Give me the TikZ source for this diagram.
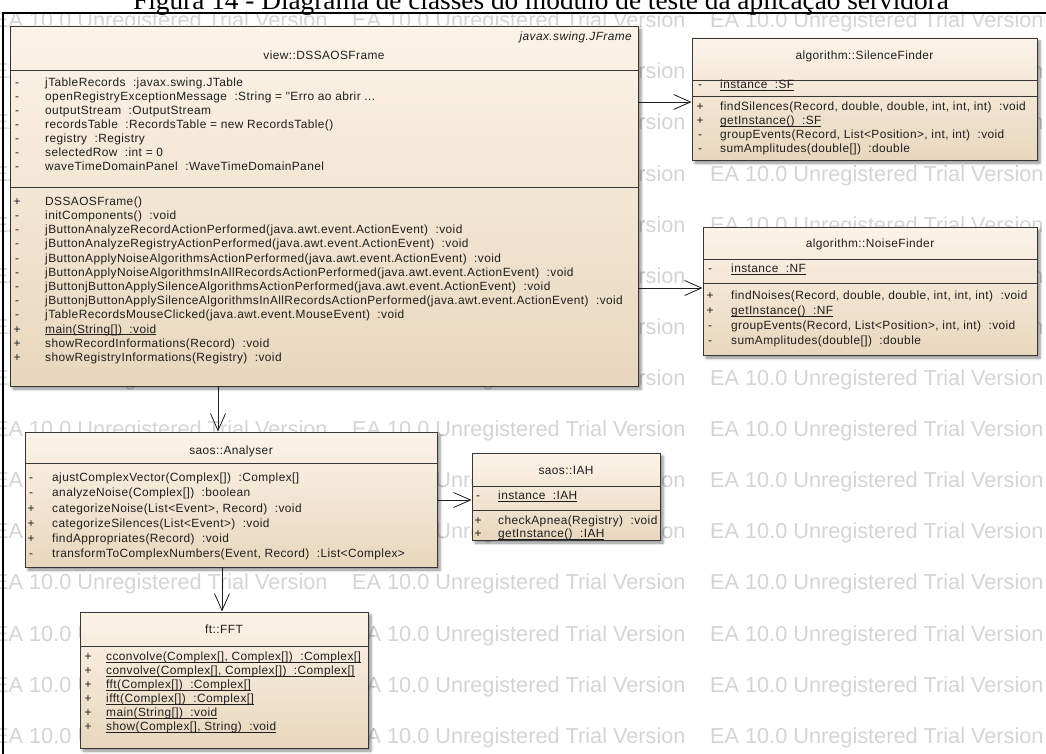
\documentclass[tikz,border=0pt]{standalone}
\usepackage{fontspec}
\setmainfont{Liberation Serif}
\newfontfamily\umlfont[LetterSpace=3.5]{Liberation Sans}
\newfontfamily\wmfont{Liberation Sans}
\usetikzlibrary{arrows.meta,shadows.blur}

\definecolor{boxtop}{RGB}{252,243,232}
\definecolor{boxbot}{RGB}{232,215,189}
\definecolor{wmgray}{RGB}{212,212,212}
\definecolor{edge}{RGB}{55,55,55}
\definecolor{ink}{RGB}{30,30,30}

\tikzset{
  umlbox/.style={draw=edge, line width=0.9pt, top color=boxtop, bottom color=boxbot,
    inner sep=0pt,
    blur shadow={shadow xshift=3pt, shadow yshift=-3pt, shadow blur radius=2.5pt, shadow opacity=45}},
  compsep/.style={draw=edge, line width=0.9pt},
  memtxt/.style={anchor=mid west, inner sep=0pt, text=ink, font=\umlfont\fontsize{11.9}{14}\selectfont},
  memsym/.style={anchor=mid, inner sep=0pt, text=ink, font=\umlfont\fontsize{11.9}{14}\selectfont},
  clsname/.style={anchor=mid, inner sep=0pt, text=ink, font=\umlfont\fontsize{11.9}{14}\selectfont},
  assoc/.style={draw=ink, line width=0.8pt, -{Straight Barb[length=17pt,width=15pt]}},
  watermark/.style={anchor=base west, inner sep=0pt, text=wmgray, font=\wmfont\fontsize{21.7}{24}\selectfont},
}

% static members: a thin rule just below the baseline
\newcommand\ul[1]{\setbox0\hbox{#1}\rlap{\raisebox{-1.8pt}{\rule{\wd0}{0.55pt}}}\box0}
% class rectangle: name, left, top, right, bottom
\newcommand\umlclass[5]{%
  \node[umlbox, minimum width={#4-#2}, minimum height={#5-#3}] (#1) at ({(#2+#4)/2},{(#3+#5)/2}) {};}
% compartment separator: class name, y
\newcommand\compline[2]{\draw[compsep] (#1.west |- 0,#2) -- (#1.east |- 0,#2);}
% member row: node name, symbol x, text x, y, visibility, text
\newcommand\mem[6]{%
  \node[memsym] (#1-v) at (#2,#4) {#5};
  \node[memtxt] (#1) at (#3,#4) {#6};}

\begin{document}
\begin{tikzpicture}[x=1pt,y=-1pt]
\useasboundingbox (0,0) rectangle (1046,754);
\begin{scope}
\clip (0,0) rectangle (1046,754);

% background watermark grid
\foreach \k in {0,...,14}
  \foreach \x [count=\j] in {-6,352,710}
    \node[watermark] (wm-\k-\j) at (\x,{27.8+51.1*\k}) {EA 10.0 Unregistered Trial Version};

% caption above the frame
\node[anchor=base, inner sep=0pt, font=\fontsize{27.3}{30}\selectfont] (caption) at (541,10)
  {Figura 14 - Diagrama de classes do módulo de teste da aplicação servidora};

% diagram frame
\draw[line width=2pt, black] (3,760) -- (3,13) -- (1050,13);

% ---------------- view::DSSAOSFrame ----------------
\umlclass{frame}{10}{26}{638}{386}
\node[anchor=mid east, inner sep=0pt, text=ink, font=\umlfont\itshape\fontsize{11.9}{14}\selectfont] (frame-super) at (632,38) {javax.swing.JFrame};
\node[clsname] (frame-name) at (324,57) {view::DSSAOSFrame};
\compline{frame}{70}
\compline{frame}{187}
\mem{fa1}{17}{45}{84}{-}{jTableRecords ~:javax.swing.JTable}
\mem{fa2}{17}{45}{98}{-}{openRegistryExceptionMessage ~:String = "Erro ao abrir ...}
\mem{fa3}{17}{45}{112}{-}{outputStream ~:OutputStream}
\mem{fa4}{17}{45}{126}{-}{recordsTable ~:RecordsTable = new RecordsTable()}
\mem{fa5}{17}{45}{140}{-}{registry ~:Registry}
\mem{fa6}{17}{45}{154}{-}{selectedRow ~:int = 0}
\mem{fa7}{17}{45}{168}{-}{waveTimeDomainPanel ~:WaveTimeDomainPanel}
\mem{fo1}{17}{45}{203}{+}{DSSAOSFrame()}
\mem{fo2}{17}{45}{217.2}{-}{initComponents() ~:void}
\mem{fo3}{17}{45}{231.4}{-}{jButtonAnalyzeRecordActionPerformed(java.awt.event.ActionEvent) ~:void}
\mem{fo4}{17}{45}{245.6}{-}{jButtonAnalyzeRegistryActionPerformed(java.awt.event.ActionEvent) ~:void}
\mem{fo5}{17}{45}{259.8}{-}{jButtonApplyNoiseAlgorithmsActionPerformed(java.awt.event.ActionEvent) ~:void}
\mem{fo6}{17}{45}{274}{-}{jButtonApplyNoiseAlgorithmsInAllRecordsActionPerformed(java.awt.event.ActionEvent) ~:void}
\mem{fo7}{17}{45}{288.2}{-}{jButtonjButtonApplySilenceAlgorithmsActionPerformed(java.awt.event.ActionEvent) ~:void}
\mem{fo8}{17}{45}{302.4}{-}{jButtonjButtonApplySilenceAlgorithmsInAllRecordsActionPerformed(java.awt.event.ActionEvent) ~:void}
\mem{fo9}{17}{45}{316.6}{-}{jTableRecordsMouseClicked(java.awt.event.MouseEvent) ~:void}
\mem{fo10}{17}{45}{330.8}{+}{\ul{main(String[]) ~:void}}
\mem{fo11}{17}{45}{345}{+}{showRecordInformations(Record) ~:void}
\mem{fo12}{17}{45}{359.2}{+}{showRegistryInformations(Registry) ~:void}

% ---------------- algorithm::SilenceFinder ----------------
\umlclass{silence}{692}{38}{1037}{160}
\node[clsname] (silence-name) at (864.5,57) {algorithm::SilenceFinder};
\compline{silence}{80}
\compline{silence}{96}
\mem{sa1}{700}{720}{86.5}{-}{\ul{instance ~:SF}}
\mem{so1}{700}{720}{108}{+}{findSilences(Record, double, double, int, int, int) ~:void}
\mem{so2}{700}{720}{122}{+}{\ul{getInstance() ~:SF}}
\mem{so3}{700}{720}{136}{-}{groupEvents(Record, List<Position>, int, int) ~:void}
\mem{so4}{700}{720}{150}{-}{sumAmplitudes(double[]) ~:double}

% ---------------- algorithm::NoiseFinder ----------------
\umlclass{noise}{703}{227}{1037}{355}
\node[clsname] (noise-name) at (870,245) {algorithm::NoiseFinder};
\compline{noise}{259}
\compline{noise}{283}
\mem{na1}{710}{731}{270}{-}{\ul{instance ~:NF}}
\mem{no1}{710}{731}{297}{+}{findNoises(Record, double, double, int, int, int) ~:void}
\mem{no2}{710}{731}{312}{+}{\ul{getInstance() ~:NF}}
\mem{no3}{710}{731}{327}{-}{groupEvents(Record, List<Position>, int, int) ~:void}
\mem{no4}{710}{731}{342}{-}{sumAmplitudes(double[]) ~:double}

% ---------------- saos::Analyser ----------------
\umlclass{analyser}{25}{432}{437}{567}
\node[clsname] (analyser-name) at (231,452) {saos::Analyser};
\compline{analyser}{463}
\mem{ao1}{31}{52}{479.5}{-}{ajustComplexVector(Complex[]) ~:Complex[]}
\mem{ao2}{31}{52}{494.7}{-}{analyzeNoise(Complex[]) ~:boolean}
\mem{ao3}{31}{52}{509.9}{+}{categorizeNoise(List<Event>, Record) ~:void}
\mem{ao4}{31}{52}{525.1}{+}{categorizeSilences(List<Event>) ~:void}
\mem{ao5}{31}{52}{540.3}{+}{findAppropriates(Record) ~:void}
\mem{ao6}{31}{52}{555.5}{-}{transformToComplexNumbers(Event, Record) ~:List<Complex>}

% ---------------- saos::IAH ----------------
\umlclass{iah}{472}{453}{660}{540}
\node[clsname] (iah-name) at (566,472) {saos::IAH};
\compline{iah}{486}
\compline{iah}{510}
\mem{ia1}{478}{498}{497}{-}{\ul{instance ~:IAH}}
\mem{io1}{478}{498}{522}{+}{checkApnea(Registry) ~:void}
\mem{io2}{478}{498}{535}{+}{\ul{getInstance() ~:IAH}}

% ---------------- ft::FFT ----------------
\umlclass{fft}{80}{612}{368}{748}
\node[clsname] (fft-name) at (224,631) {ft::FFT};
\compline{fft}{646}
\mem{to1}{88}{106}{658.5}{+}{\ul{cconvolve(Complex[], Complex[]) ~:Complex[]}}
\mem{to2}{88}{106}{672.5}{+}{\ul{convolve(Complex[], Complex[]) ~:Complex[]}}
\mem{to3}{88}{106}{686.5}{+}{\ul{fft(Complex[]) ~:Complex[]}}
\mem{to4}{88}{106}{700.5}{+}{\ul{ifft(Complex[]) ~:Complex[]}}
\mem{to5}{88}{106}{714.5}{+}{\ul{main(String[]) ~:void}}
\mem{to6}{88}{106}{728.5}{+}{\ul{show(Complex[], String) ~:void}}

% ---------------- associations ----------------
\draw[assoc] (frame.east |- 0,102) -- (silence.west |- 0,102);
\draw[assoc] (frame.east |- 0,288) -- (noise.west |- 0,288);
\draw[assoc] (frame.south -| 218,0) -- (analyser.north -| 218,0);
\draw[assoc] (analyser.east |- 0,500) -- (iah.west |- 0,500);
\draw[assoc] (analyser.south -| 222,0) -- (fft.north -| 222,0);

\end{scope}
\end{tikzpicture}
\end{document}
